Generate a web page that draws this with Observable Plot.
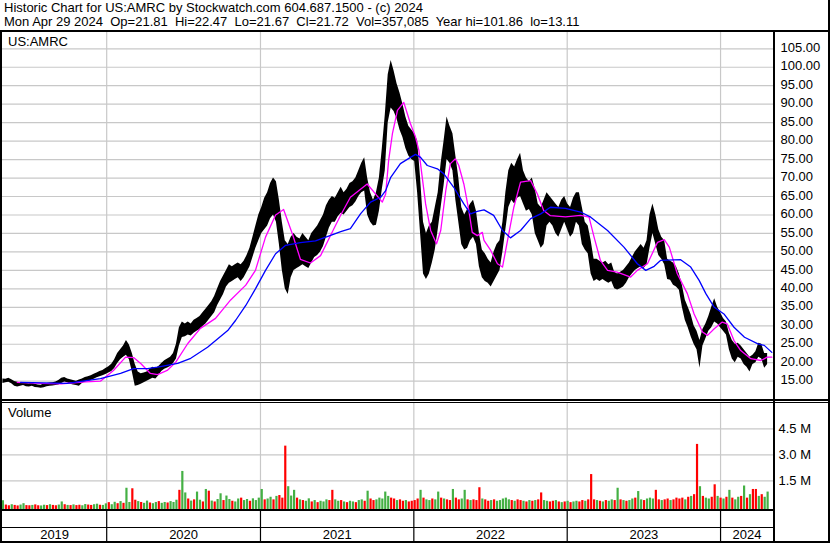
<!DOCTYPE html>
<html><head><meta charset="utf-8">
<script src="https://cdn.jsdelivr.net/npm/d3@7"></script>
<script src="https://cdn.jsdelivr.net/npm/@observablehq/plot@0.6"></script>
<style>
html,body{margin:0;padding:0;background:#fff;}
#chart{position:relative;width:830px;height:543px;overflow:hidden;font-family:"Liberation Sans",Arial,sans-serif;background:#fff;}
.hdr{position:absolute;left:4px;font-size:13px;white-space:pre;color:#000;line-height:14px;}
.ln{position:absolute;background:#000;z-index:5;}
.pane{position:absolute;left:0;}
.lbl{position:absolute;font-size:13px;color:#000;}
</style></head><body><div id="chart"></div>
<script>
// ---------------- DATA ----------------
const title = "Historic Chart for US:AMRC by Stockwatch.com 604.687.1500 - (c) 2024";
const subtitle = "Mon Apr 29 2024  Op=21.81  Hi=22.47  Lo=21.67  Cl=21.72  Vol=357,085  Year hi=101.86  lo=13.11";
const symbol = "US:AMRC";
const firstWeek = "2019-04-29";   // weekly samples start here
const years = [2019, 2020, 2021, 2022, 2023, 2024];
const priceTicks = [15,20,25,30,35,40,45,50,55,60,65,70,75,80,85,90,95,100,105];
const volTicks = [1.5, 3.0, 4.5];   // millions

// weekly high / low
const weekHi = [
15.6,15.5,15.8,15.4,14.9,14.7,14.5,14.6,14.4,14.3,
14.5,14.2,14.0,13.9,14.3,14.4,14.5,14.6,14.8,15.2,
15.8,16.0,15.6,15.4,15.2,15.0,15.3,15.6,16.0,16.2,
16.5,16.9,17.2,17.6,17.9,18.4,18.9,19.6,20.8,22.5,
23.5,24.5,26.0,24.8,22.5,19.5,17.5,17.0,17.2,17.5,
18.2,18.8,18.5,19.0,19.8,20.5,21.0,21.5,22.5,25.0,
29.5,31.0,30.5,31.0,30.5,31.5,32.0,32.5,33.5,34.5,
35.5,36.5,38.0,40.0,42.0,43.5,45.0,46.5,46.0,46.5,
47.0,46.5,47.5,49.0,51.0,54.0,57.0,60.0,62.0,64.5,
66.0,68.5,70.0,69.0,64.0,58.0,53.0,52.0,54.0,55.0,
54.0,53.5,55.0,54.0,53.0,55.0,56.0,57.0,58.5,60.0,
62.5,64.0,65.0,64.5,66.0,67.5,66.0,67.0,68.5,69.0,
70.0,72.0,74.0,75.5,70.0,66.0,64.0,66.0,70.0,78.0,
87.0,98.0,101.86,99.0,95.5,93.0,90.0,86.5,84.0,83.0,
82.0,80.0,70.0,58.0,55.0,57.0,58.0,62.0,66.0,74.0,
80.0,86.5,84.0,82.0,76.0,70.0,62.0,60.0,61.5,63.0,
64.0,61.0,55.0,50.5,49.5,48.0,47.0,50.0,52.0,53.0,
58.0,66.0,72.0,74.0,73.0,75.0,76.7,72.0,70.0,69.0,
70.0,67.0,63.0,62.0,64.0,66.0,65.0,64.0,63.0,62.0,
64.0,65.0,63.0,62.0,64.5,66.0,66.0,62.0,58.0,57.0,
53.0,48.0,48.0,47.5,47.0,47.5,46.5,47.0,44.5,44.0,
44.5,45.0,46.0,47.0,48.5,50.0,51.0,52.0,51.0,53.0,
60.0,63.0,60.0,56.0,54.0,53.0,48.0,47.5,47.0,46.0,
44.0,41.0,37.0,35.0,33.0,30.0,28.5,26.0,29.0,30.5,
32.5,35.0,37.3,35.0,33.5,32.0,31.0,28.0,26.0,25.0,
25.3,24.5,23.5,22.5,21.5,22.0,23.0,25.3,25.0,22.5,
22.5];
const weekLo = [
14.4,14.6,14.7,14.3,13.6,13.4,13.6,13.8,13.5,13.4,
13.6,13.3,13.2,13.11,13.2,13.5,13.6,13.7,13.8,14.0,
14.4,14.8,14.6,14.2,14.0,13.8,13.6,14.4,14.8,15.0,
15.2,15.5,15.9,16.2,16.5,16.8,17.2,17.6,18.4,19.8,
20.8,21.5,22.0,20.8,17.5,13.6,13.8,14.2,14.6,15.0,
15.4,15.8,15.6,16.5,17.6,18.2,18.6,19.0,19.8,21.0,
24.5,26.8,27.0,27.5,27.2,28.0,28.5,29.0,29.8,30.5,
31.5,32.5,33.5,35.5,37.0,38.5,40.5,41.5,42.0,42.5,
43.0,42.0,43.0,44.5,46.0,48.5,51.0,53.0,55.0,56.0,
57.0,59.0,60.0,58.0,52.0,45.0,40.0,38.5,43.0,45.0,
45.5,46.0,46.5,46.0,45.5,47.0,48.5,49.0,50.0,51.5,
54.0,56.5,58.0,58.0,59.5,60.5,60.0,61.0,62.0,62.5,
63.5,65.0,66.0,66.5,60.0,58.0,57.0,57.2,61.0,67.0,
72.0,85.0,89.0,88.0,86.0,83.0,81.0,78.0,76.0,75.0,
74.5,66.0,55.0,44.0,42.5,44.0,47.0,50.5,56.0,62.0,
68.0,75.0,74.0,72.0,64.0,58.0,52.0,50.5,51.0,53.0,
54.0,52.0,46.0,43.0,42.0,41.5,40.5,42.0,43.5,45.0,
50.0,56.0,62.0,64.0,63.0,64.5,65.0,63.0,61.0,61.5,
60.0,55.0,53.0,51.0,52.0,57.0,58.0,57.0,55.0,54.0,
56.0,58.0,56.0,54.0,55.0,58.0,57.0,52.0,50.5,49.5,
44.0,42.0,42.5,42.0,42.5,42.0,41.5,42.0,40.0,39.7,
40.0,40.5,41.5,43.0,44.0,45.0,45.5,46.0,45.5,46.5,
51.0,55.0,52.0,49.0,48.0,46.5,42.5,42.3,41.0,40.5,
39.6,35.0,31.5,29.5,27.0,25.0,23.5,18.5,24.5,26.5,
28.5,29.5,31.0,30.5,29.5,28.5,27.5,23.5,21.0,20.0,
21.5,21.0,19.5,18.8,17.5,19.5,20.0,21.5,21.0,18.5,
19.5];

// weekly volume (millions) and up(1)/down(0) flag
const weekVol = [
0.35,0.10,0.06,0.12,0.08,0.05,0.10,0.18,0.07,0.06,
0.08,0.11,0.06,0.05,0.09,0.07,0.12,0.08,0.06,0.10,
0.28,0.12,0.08,0.07,0.11,0.07,0.09,0.06,0.13,0.10,
0.08,0.12,0.15,0.09,0.08,0.17,0.24,0.12,0.26,0.18,
0.30,0.20,1.07,0.25,1.04,0.38,0.30,0.25,0.20,0.33,
0.22,0.18,0.25,0.30,0.20,0.25,0.22,0.30,0.25,0.38,
0.95,2.04,0.80,0.45,0.33,0.40,0.85,0.38,0.28,1.00,
0.90,0.33,0.28,0.42,0.75,0.36,0.62,0.42,0.32,0.28,
0.45,0.50,0.36,0.42,0.32,0.46,0.36,0.50,1.00,0.40,
0.45,0.55,0.40,0.60,0.65,0.50,3.50,1.16,0.62,0.95,
0.50,0.40,0.36,0.32,0.46,0.28,0.36,0.24,0.32,0.28,
0.40,0.36,0.95,0.40,0.32,0.36,0.28,0.24,0.32,0.28,
0.24,0.36,0.40,0.32,0.90,0.45,0.36,0.40,0.50,0.45,
0.85,0.60,0.50,0.45,0.36,0.40,0.32,0.36,0.28,0.32,
0.36,0.45,0.95,0.50,0.40,0.36,0.45,0.40,0.85,0.50,
0.45,0.40,0.36,1.00,0.50,0.40,0.45,0.95,0.40,0.36,
0.40,0.36,1.10,0.45,0.40,0.32,0.36,0.40,0.32,0.36,
0.45,0.50,0.40,0.36,0.32,0.40,0.36,0.32,0.28,0.36,
0.32,0.36,0.40,0.80,0.36,0.32,0.28,0.32,0.36,0.28,
0.24,0.28,0.32,0.24,0.28,0.32,0.28,0.36,0.32,0.40,
1.86,0.40,0.36,0.32,0.28,0.36,0.32,0.40,0.36,1.07,
0.40,0.36,0.32,0.36,0.45,0.50,0.88,0.40,0.36,0.45,
0.50,0.45,0.95,0.40,0.36,0.40,0.45,0.36,0.40,0.50,
0.45,0.50,0.40,0.55,0.60,0.70,3.60,1.16,0.60,0.50,
0.45,0.55,1.27,0.60,0.50,0.45,0.55,0.95,0.50,0.40,
0.55,0.60,1.20,0.50,0.70,1.00,1.00,0.60,0.70,0.55,
0.85];
const weekUp = [
1,0,0,1,0,0,1,1,0,0, 1,0,0,1,1,0,1,0,0,1, 1,0,1,0,1,0,0,1,1,0, 0,1,1,0,1,1,0,1,1,0,
1,0,1,1,0,0,1,0,1,1, 0,1,1,0,1,1,0,1,1,1, 0,1,1,0,1,0,1,1,0,1, 0,1,0,1,1,0,1,1,0,1,
1,0,1,1,0,1,1,1,1,0, 1,1,0,1,0,0,0,1,1,1, 0,1,0,1,1,0,1,0,1,1, 1,0,0,1,1,0,1,0,1,1,
0,1,1,0,1,0,0,1,1,1, 1,1,0,0,1,0,0,1,0,0, 0,0,1,0,1,1,0,1,1,0, 1,0,0,1,0,0,1,1,0,1,
0,0,0,1,0,0,1,0,1,1, 1,1,1,0,1,0,0,1,0,1, 0,1,0,0,1,1,0,0,1,0, 1,0,1,0,1,1,0,0,1,0,
0,0,1,0,1,0,1,1,0,1, 0,1,0,1,1,0,1,1,0,1, 1,1,0,0,1,0,0,1,0,0, 0,0,1,0,1,0,0,1,0,1,
1,0,0,1,0,1,0,1,0,1, 1,0,1,0,1,0,0,1,0,1, 1];

// moving averages: position in weeks since firstWeek, value
const magWeek = [4.9,12.8,19.9,28.1,33.2,37.6,41.7,44.4,46.8,50.2,52.6,55.9,58.7,62.8,67.2,72.3,77.4,82.5,85.9,89.3,92.7,95.4,98.5,101.2,104.6,108,111.4,114.8,118.2,123.9,129,130.1,131.2,132.4,134.1,136.3,138.6,140.3,141.4,142.6,143.7,145.4,147.4,148.8,150.5,152.2,153.9,155,156.7,158.4,159.6,161.3,163,163.5,165.8,168.1,169.8,171.5,173.7,176,179.4,181.7,183.9,186.2,191.3,196.4,199.3,201,203.2,205.5,208.9,213.4,215.7,219.1,222.5,224.8,226.5,229.3,232.7,235,237.8,239.5,241.8,244.6,246.3,248.6,250.9,254.3,257.7,259.9,261.4];
const magVal  = [14.7,14.4,14.3,14.8,15.0,17.9,21.5,21.4,19.8,17.1,16.8,17.9,20.1,25.2,29.3,32,37,41,45,54,60,61.5,54.5,48,47,49,54.5,60,64.8,68.4,63.5,65.7,74.8,82,88.3,90.5,84.7,81.1,77.5,70.2,63.0,55.8,52.2,55.8,66.6,73.9,75.2,73.4,68.4,61.2,55.3,54.4,55.3,53.1,50.4,46.8,45.9,53.1,62.1,68.9,69.3,65.7,61.2,59.8,59.5,59.9,59.4,54.0,47.7,45.0,44.5,43.2,45.0,46.8,52.6,53.3,51.3,44.1,38.7,33.2,28.3,27.4,29.2,31.0,30.5,26.0,23.3,21.1,20.6,21.5,21.5];
const blueWeek = [6,21.9,33.2,40,44.4,49.1,52.6,59.4,63.8,69.6,76.4,79.1,82.5,85.9,89.3,92.7,96.1,101.2,106.3,111.4,114.8,118.2,121.6,125,128.4,130.1,131.8,135.2,138.6,140.3,142,144.3,147.7,149.9,153.3,156.7,159,161.3,163.5,166.9,169.8,172.6,176,179.4,182.8,186.2,191.3,196.4,199.8,205.5,211.2,215.7,218.5,221.4,223.6,230.4,233.8,236.7,239,241.8,245.2,248.6,252.2,256.7,258.8,261.4];
const blueVal  = [14.7,14.4,15.7,17.1,18.4,18.4,18.8,19.8,21.2,24.2,28.7,31.5,35.5,40,45,49.5,51.8,52.5,53,54.5,55.5,56.3,60.3,63.5,64.8,66.6,70.2,73.9,75.6,76.4,75.6,73.4,72.5,71.2,67.5,63.0,60.3,61.0,61.4,59.9,55.8,53.8,55.8,59.0,60.3,62.1,61.8,60.8,59.4,55.8,51.3,46.8,45.0,46.1,47.7,47.9,45.9,42.3,38.7,35.0,33.2,29.6,26.9,25.1,24.7,22.8];

// ---------------- BUILD ----------------
const FONT = '"Liberation Sans", Arial, sans-serif';
const GRID = "#c8c8c8";
const LABEL = "#000";
const parse = d3.utcParse("%Y-%m-%d");
const t0 = parse(firstWeek);
const wk = w => new Date(t0.getTime() + Math.round(w * 7) * 864e5);
const weeks = weekHi.map((h, i) => ({date: wk(i), hi: h, lo: weekLo[i], vol: weekVol[i], up: weekUp[i]}));
const mag = magWeek.map((w, i) => ({date: wk(w), v: magVal[i]}));
const blu = blueWeek.map((w, i) => ({date: wk(w), v: blueVal[i]}));

const xDomain = [new Date(Date.UTC(2019, 3, 28)), new Date(Date.UTC(2024, 4, 6))];
const yearStarts = years.slice(1).map(y => new Date(Date.UTC(y, 0, 1)));
const yearMids = years.map(y => {
  const a = Math.max(Date.UTC(y, 0, 1), +xDomain[0]);
  const b = Math.min(Date.UTC(y + 1, 0, 1), +xDomain[1]);
  return new Date((a + b) / 2);
});

const chart = document.getElementById("chart");
function add(el){ chart.appendChild(el); return el; }
function div(cls, css, txt){ const d = document.createElement("div"); d.className = cls; Object.assign(d.style, css); if (txt != null) d.textContent = txt; return add(d); }

div("hdr", {top: "1px"}, title);
div("hdr", {top: "15px"}, subtitle);

const pricePlot = Plot.plot({
  width: 830, height: 368,
  marginLeft: 2, marginRight: 57, marginTop: 0, marginBottom: 0,
  style: {fontFamily: FONT, fontSize: "13px", background: "transparent", color: "#000", overflow: "visible"},
  x: {type: "utc", domain: xDomain, axis: null, label: null},
  y: {domain: [10.04, 109.68], axis: null, label: null},
  marks: [
    Plot.ruleY(priceTicks, {stroke: GRID, strokeWidth: 1.2}),
    Plot.ruleX(yearStarts, {stroke: GRID, strokeWidth: 1.2}),
    Plot.areaY(weeks, {x: "date", y1: "lo", y2: "hi", fill: "#000"}),
    Plot.line(mag, {x: "date", y: "v", stroke: "#ff00ff", strokeWidth: 1.3}),
    Plot.line(blu, {x: "date", y: "v", stroke: "#0000ff", strokeWidth: 1.3}),
    Plot.axisY(priceTicks, {anchor: "right", label: null, tickSize: 0, tickPadding: 7, textAnchor: "start", tickFormat: d => d.toFixed(2), fill: LABEL, dy: -1})
  ]
});
const pp = div("pane", {top: "31px"}); pp.appendChild(pricePlot);
div("lbl", {left: "8px", top: "34px"}, symbol);

const vmin = -0.156;
const volPlot = Plot.plot({
  width: 830, height: 140,
  marginLeft: 2, marginRight: 57, marginTop: 0, marginBottom: 34,
  style: {fontFamily: FONT, fontSize: "13px", background: "transparent", color: "#000", overflow: "visible"},
  x: {type: "utc", domain: xDomain, axis: null, label: null},
  y: {domain: [vmin, 5.96], axis: null, label: null},
  marks: [
    Plot.ruleY(volTicks, {stroke: GRID, strokeWidth: 1.2}),
    Plot.ruleX(yearStarts, {stroke: GRID, strokeWidth: 1.2}),
    Plot.ruleX(weeks, {x: "date", y1: vmin, y2: "vol", stroke: d => d.up ? "#44b044" : "#ff0000", strokeWidth: 2.2}),
    Plot.axisY(volTicks, {anchor: "right", label: null, tickSize: 0, tickPadding: 5, textAnchor: "start", tickFormat: d => d.toFixed(1) + " M", fill: LABEL}),
    Plot.axisX(yearStarts, {anchor: "bottom", label: null, tickSize: 32, tickFormat: () => "", stroke: "#000", strokeWidth: 1.2}),
    Plot.axisX(yearMids, {anchor: "bottom", label: null, tickSize: 0, tickPadding: 20, tickFormat: d => String(d.getUTCFullYear()), fill: "#000"})
  ]
});
const vp = div("pane", {top: "403px"}); vp.appendChild(volPlot);
div("lbl", {left: "8px", top: "405px"}, "Volume");

// frame lines
div("ln", {left: "0px", top: "30px", width: "830px", height: "2px"});
div("ln", {left: "0px", top: "30px", width: "2px", height: "513px"});
div("ln", {left: "773px", top: "30px", width: "2px", height: "513px"});
div("ln", {left: "828px", top: "0px", width: "2px", height: "543px"});
div("ln", {left: "0px", top: "399px", width: "830px", height: "2px"});
div("ln", {left: "0px", top: "402px", width: "830px", height: "1px"});
div("ln", {left: "0px", top: "509px", width: "775px", height: "2px"});
div("ln", {left: "0px", top: "527px", width: "775px", height: "1px"});
div("ln", {left: "0px", top: "541px", width: "830px", height: "2px"});
</script></body></html>
